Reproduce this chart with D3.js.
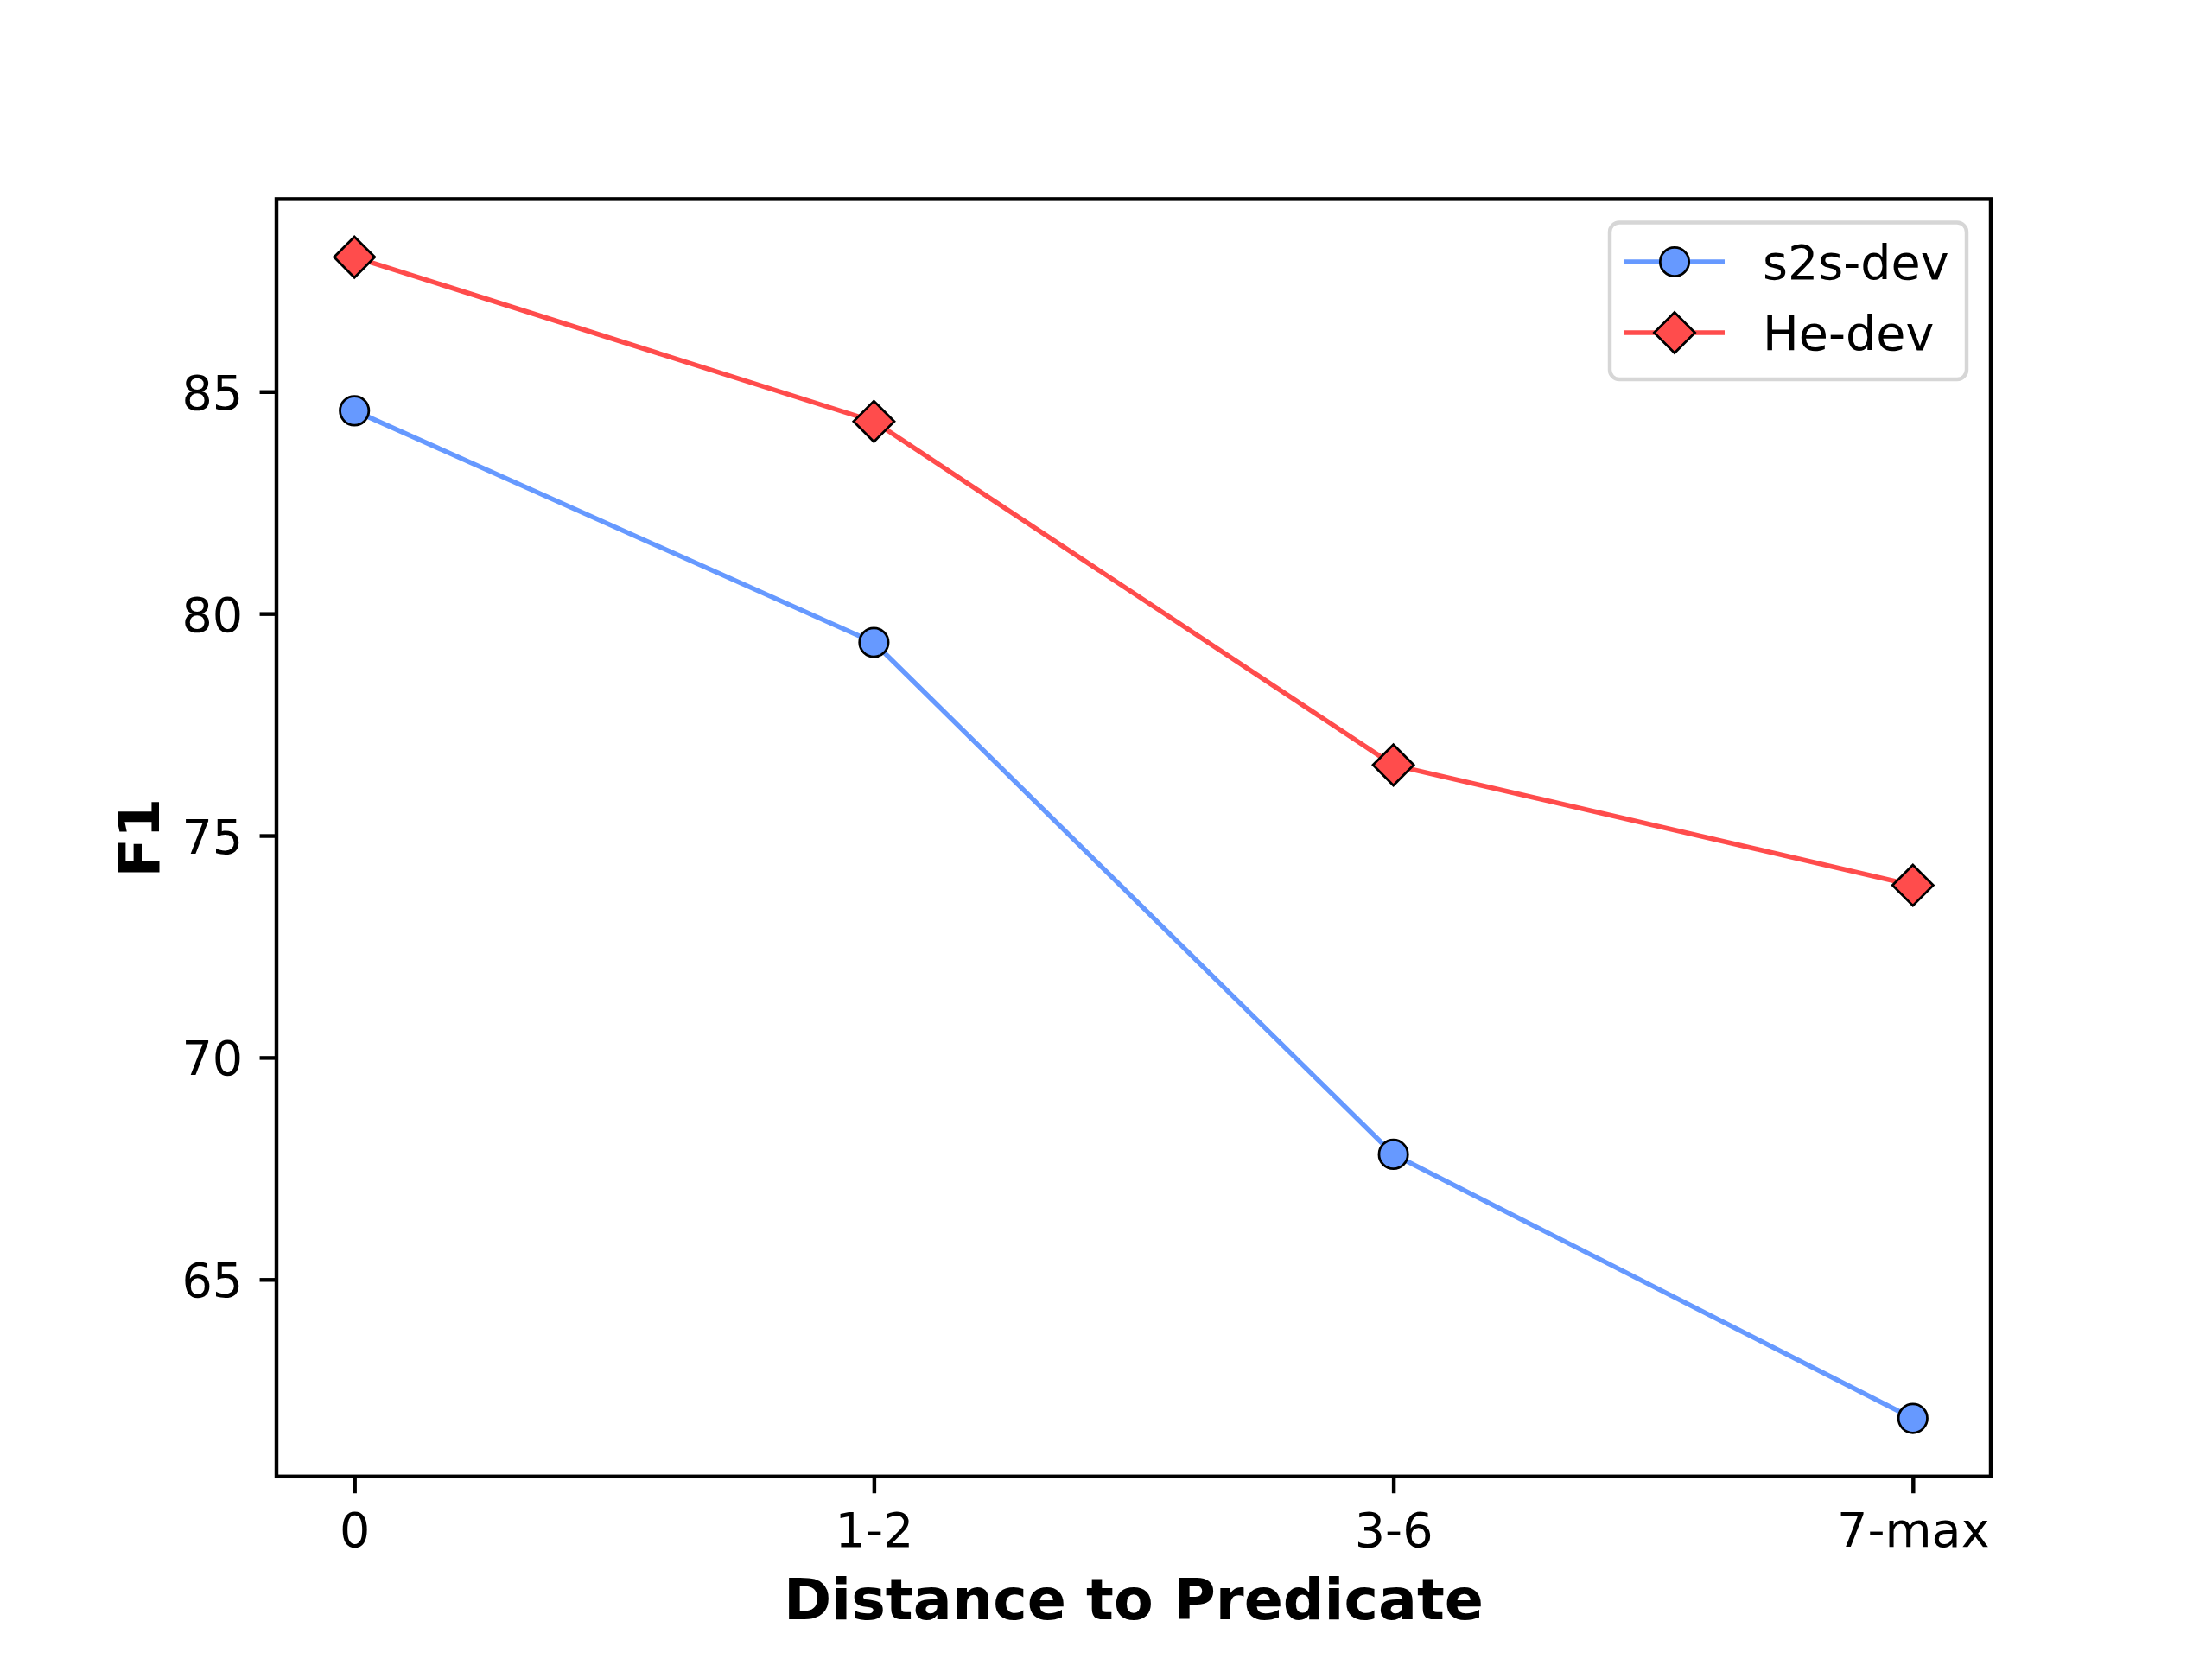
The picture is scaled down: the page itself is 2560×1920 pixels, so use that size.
<!DOCTYPE html>
<html>
<head>
<meta charset="utf-8">
<script src="https://cdn.jsdelivr.net/npm/d3@7"></script>
<style>
  body { margin: 0; background: #fff; }
  text { font-family: "DejaVu Sans", sans-serif; }
</style>
</head>
<body>
<div id="chart"></div>
<script>
// values
var categories = ["0", "1-2", "3-6", "7-max"];
var s2sDev = [84.57, 79.35, 67.82, 61.87];
var heDev = [88.03, 84.33, 76.59, 73.88];
var yTicks = [65, 70, 75, 80, 85];
var seriesNames = ["s2s-dev", "He-dev"];

function lineChart() {
    var w = 2560;
    var h = 1920;
    // matplotlib default axes box at 400 dpi
    var left = 320, right = 2304, top = 230.4, bottom = 1708.8;
    var pt = 400 / 72;

    var blue = "#6699ff";
    var red = "#ff4c4c";

    var svg = d3.select("#chart")
            .append("svg")
            .attr("width", w)
            .attr("height", h);

    var x = d3.scalePoint()
            .domain(categories)
            .range([left, right])
            .padding(0.15);

    var all = s2sDev.concat(heDev);
    var lo = d3.min(all), hi = d3.max(all);
    var m = (hi - lo) * 0.05;
    var y = d3.scaleLinear()
            .domain([lo - m, hi + m])
            .range([bottom, top]);

    // axes
    var xAxis = d3.axisBottom(x)
            .tickSize(3.5 * pt)
            .tickPadding(3.5 * pt)
            .tickSizeOuter(0);
    var gx = svg.append("g")
            .attr("transform", "translate(0," + bottom + ")")
            .call(xAxis);
    gx.select(".domain").remove();
    gx.selectAll(".tick line").attr("stroke", "#000").attr("stroke-width", 0.8 * pt);
    gx.selectAll(".tick text")
        .attr("y", 81)
        .attr("dy", null)
        .attr("fill", "#000")
        .style("font-size", (10 * pt) + "px");

    var yAxis = d3.axisLeft(y)
            .tickValues(yTicks)
            .tickSize(3.5 * pt)
            .tickPadding(3.5 * pt)
            .tickSizeOuter(0);
    var gy = svg.append("g")
            .attr("transform", "translate(" + left + ",0)")
            .call(yAxis);
    gy.select(".domain").remove();
    gy.selectAll(".tick line").attr("stroke", "#000").attr("stroke-width", 0.8 * pt);
    gy.selectAll(".tick text")
        .attr("fill", "#000")
        .attr("dy", "0.36em")
        .style("font-size", (10 * pt) + "px");

    // lines and markers
    var line = d3.line()
            .x(function (d, i) { return x(categories[i]); })
            .y(function (d) { return y(d); });

    svg.append("path")
        .datum(s2sDev)
        .attr("d", line)
        .attr("fill", "none")
        .attr("stroke", blue)
        .attr("stroke-width", 1 * pt);

    svg.append("path")
        .datum(heDev)
        .attr("d", line)
        .attr("fill", "none")
        .attr("stroke", red)
        .attr("stroke-width", 1 * pt);

    var ms = 6 * pt;

    svg.selectAll("circle.s2s")
        .data(s2sDev)
        .enter()
        .append("circle")
        .attr("class", "s2s")
        .attr("cx", function (d, i) { return x(categories[i]); })
        .attr("cy", function (d) { return y(d); })
        .attr("r", ms / 2)
        .attr("fill", blue)
        .attr("stroke", "#000")
        .attr("stroke-width", 0.5 * pt);

    var half = ms / Math.SQRT2;
    function diamond(cx, cy) {
        return "M" + cx + "," + (cy - half) + "L" + (cx + half) + "," + cy +
            "L" + cx + "," + (cy + half) + "L" + (cx - half) + "," + cy + "Z";
    }

    svg.selectAll("path.he")
        .data(heDev)
        .enter()
        .append("path")
        .attr("class", "he")
        .attr("d", function (d, i) { return diamond(x(categories[i]), y(d)); })
        .attr("fill", red)
        .attr("stroke", "#000")
        .attr("stroke-width", 0.5 * pt);

    // frame
    svg.append("rect")
        .attr("x", left)
        .attr("y", top)
        .attr("width", right - left)
        .attr("height", bottom - top)
        .attr("fill", "none")
        .attr("stroke", "#000")
        .attr("stroke-width", 0.8 * pt);

    // axis labels
    svg.append("text")
        .attr("x", (left + right) / 2)
        .attr("y", 1874)
        .attr("text-anchor", "middle")
        .style("font-size", (12 * pt) + "px")
        .style("font-weight", "bold")
        .text("Distance to Predicate");

    svg.append("text")
        .attr("transform", "translate(184," + ((top + bottom) / 2) + ") rotate(-90)")
        .attr("text-anchor", "middle")
        .style("font-size", (12 * pt) + "px")
        .style("font-weight", "bold")
        .text("F1");

    // legend
    var lg = svg.append("g");
    lg.append("rect")
        .attr("x", 1863)
        .attr("y", 257.5)
        .attr("width", 2276 - 1863)
        .attr("height", 439 - 257.5)
        .attr("rx", 11)
        .attr("fill", "#fff")
        .attr("fill-opacity", 0.8)
        .attr("stroke", "#d6d6d6")
        .attr("stroke-width", 0.8 * pt);

    var rows = [303, 385];
    var colors = [blue, red];
    seriesNames.forEach(function (name, i) {
        var ry = rows[i];
        lg.append("line")
            .attr("x1", 1880).attr("x2", 1996)
            .attr("y1", ry).attr("y2", ry)
            .attr("stroke", colors[i])
            .attr("stroke-width", 1 * pt);
        if (i === 0) {
            lg.append("circle")
                .attr("cx", 1938).attr("cy", ry)
                .attr("r", ms / 2)
                .attr("fill", blue)
                .attr("stroke", "#000")
                .attr("stroke-width", 0.5 * pt);
        } else {
            lg.append("path")
                .attr("d", diamond(1938, ry))
                .attr("fill", red)
                .attr("stroke", "#000")
                .attr("stroke-width", 0.5 * pt);
        }
        lg.append("text")
            .attr("x", 2040)
            .attr("y", ry + 20)
            .style("font-size", (10 * pt) + "px")
            .text(name);
    });
}
window.onload = lineChart;
</script>
</body>
</html>
